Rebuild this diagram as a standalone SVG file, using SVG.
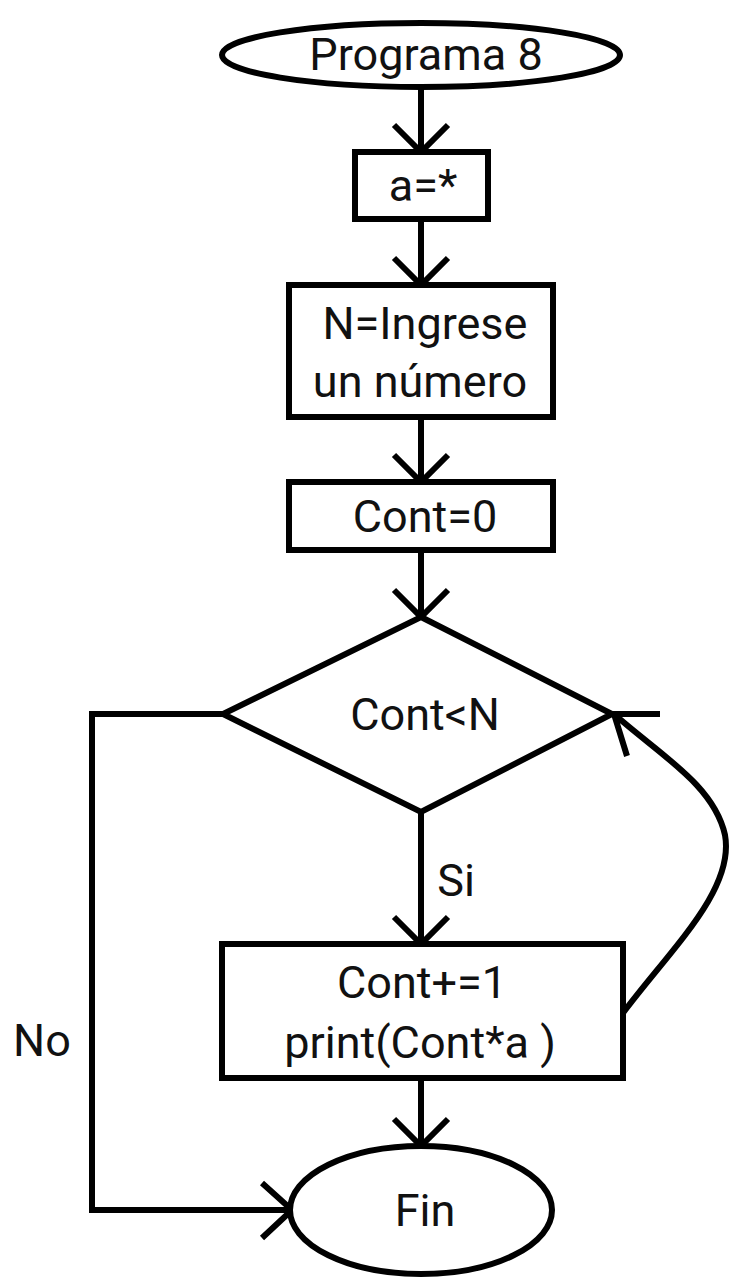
<svg xmlns="http://www.w3.org/2000/svg" width="738" height="1282" viewBox="0 0 738 1282">
<style>
.s{fill:#fff;stroke:#000;stroke-width:6}
.c{fill:none;stroke:#000;stroke-width:6}
.t{font-family:Roboto,"Liberation Sans",sans-serif;font-size:45px;fill:#111;text-anchor:middle}
</style>
<rect width="738" height="1282" fill="#fff"/>
<g id="connectors">
<path class="c" d="M421 87V152M394 125L421 152L448 125"/>
<path class="c" d="M421 221V285M394 258L421 285L448 258"/>
<path class="c" d="M421 417V482M394 455L421 482L448 455"/>
<path class="c" d="M421 551V617M394 590L421 617L448 590"/>
<path class="c" d="M421 812V944M394 917L421 944L448 917"/>
<path class="c" d="M421 1078V1146M394 1119L421 1146L448 1119"/>
<path class="c" d="M223 714H92V1210H292M262 1183L292 1210L262 1238"/>
<path class="c" d="M623 1013C670 950 735 890 725 835C714 785 660 755 614 714M660 714H614L627 756"/>
<text class="t" x="456" y="896">Si</text>
<text class="t" x="42" y="1056">No</text>
</g>
<g id="start">
<ellipse class="s" cx="421" cy="55" rx="199" ry="32"/>
<text class="t" x="426" y="70">Programa 8</text>
</g>
<g id="a">
<rect class="s" x="355" y="152" width="133" height="67"/>
<text class="t" x="423" y="201">a=*</text>
</g>
<g id="n">
<rect class="s" x="289" y="285" width="264" height="132"/>
<text class="t" x="425" y="339">N=Ingrese</text>
<text class="t" x="420" y="397">un número</text>
</g>
<g id="cont0">
<rect class="s" x="289" y="482" width="264" height="68"/>
<text class="t" x="425" y="532">Cont=0</text>
</g>
<g id="cond">
<polygon class="s" points="421,617 612,714 421,812 223,714"/>
<text class="t" x="425" y="730">Cont&lt;N</text>
</g>
<g id="body">
<rect class="s" x="222" y="944" width="401" height="134"/>
<text class="t" x="422" y="998">Cont+=1</text>
<text class="t" x="420" y="1058">print(Cont*a )</text>
</g>
<g id="end">
<ellipse class="s" cx="421" cy="1210" rx="131" ry="64"/>
<text class="t" x="425" y="1226">Fin</text>
</g>
</svg>
